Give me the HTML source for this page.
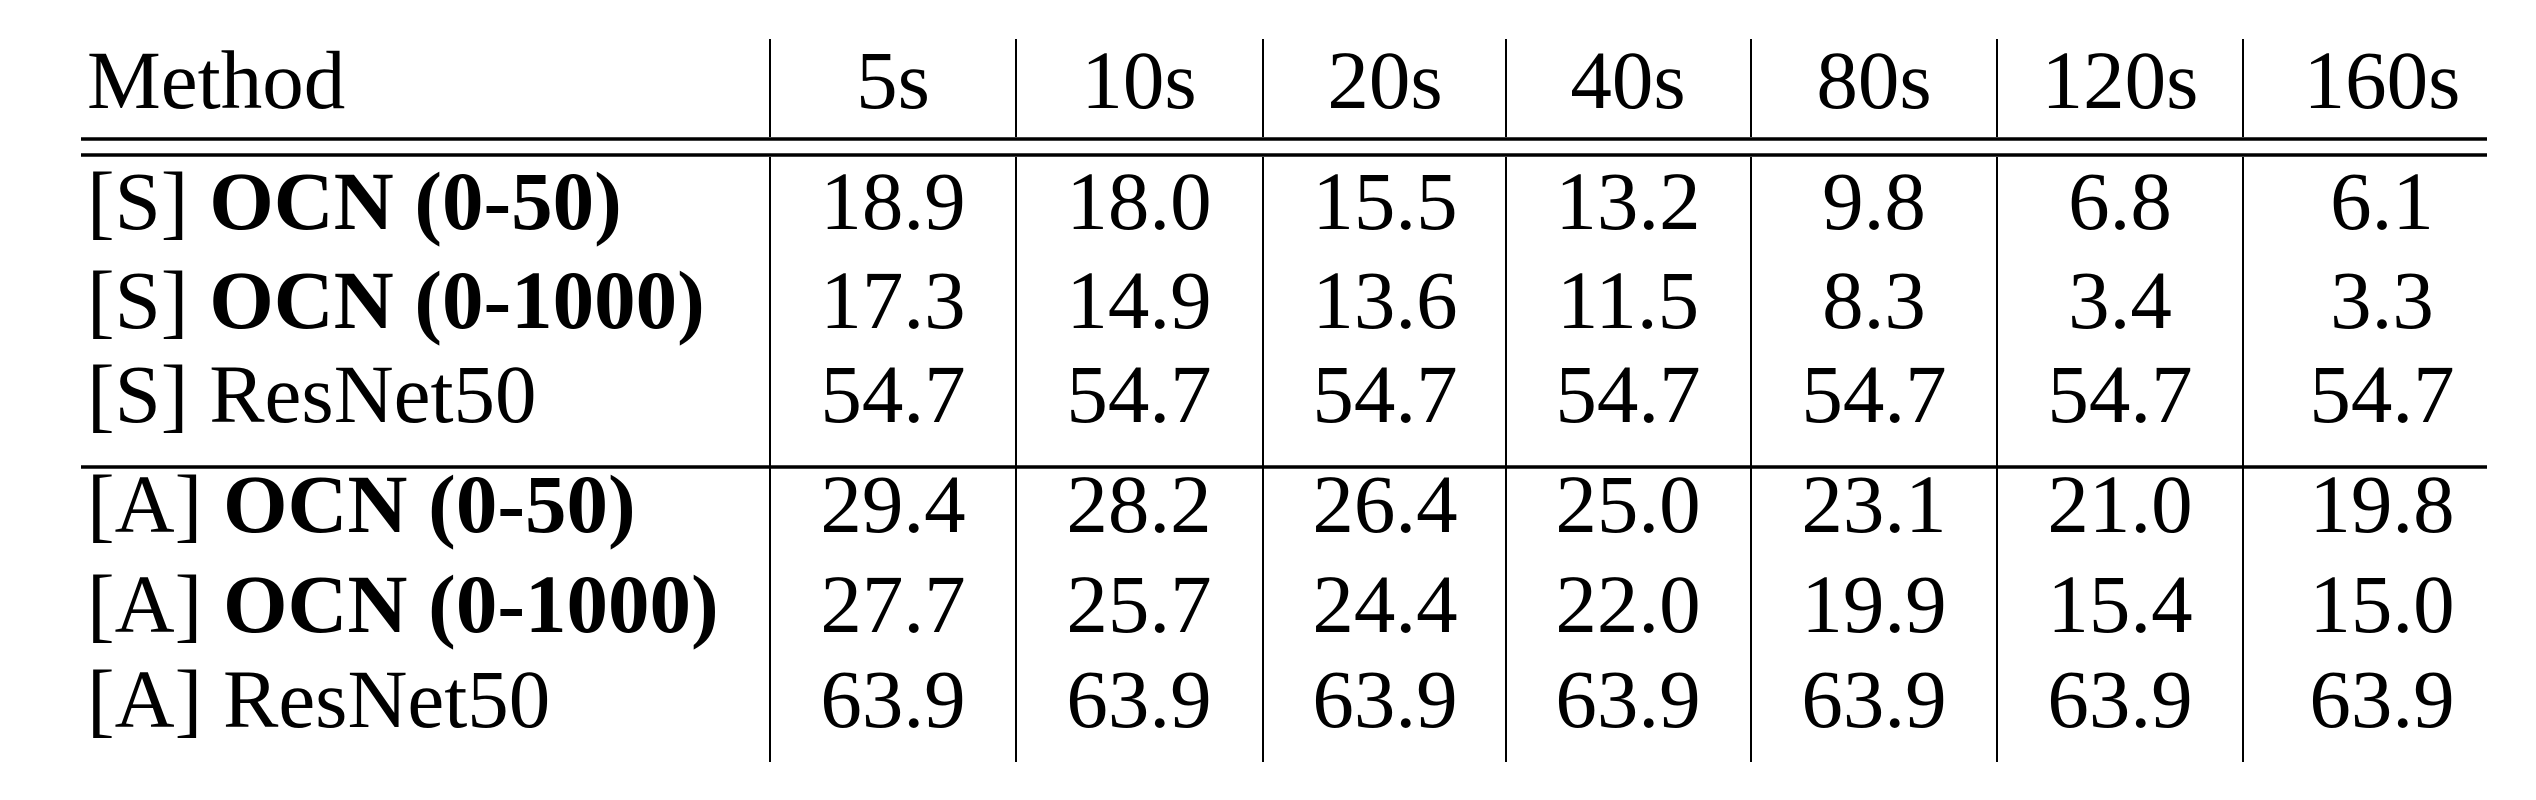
<!DOCTYPE html>
<html><head><meta charset="utf-8"><style>
html,body{margin:0;padding:0;background:#fff;width:2536px;height:800px;overflow:hidden}
svg text{font-family:"Liberation Serif","Times New Roman",serif;font-size:83px;fill:#000}
</style></head><body>
<svg width="2536" height="800">
<g id="lines"></g>
<g id="txt"></g>
</svg>
<script>
const headers=["5s","10s","20s","40s","80s","120s","160s"];
const rowPrefix=["[S] ","[S] ","[S] ","[A] ","[A] ","[A] "];
const rowBold=["OCN (0-50)","OCN (0-1000)","","OCN (0-50)","OCN (0-1000)",""];
const rowPlain=["","","ResNet50","","","ResNet50"];
const values=[
["18.9","18.0","15.5","13.2","9.8","6.8","6.1"],
["17.3","14.9","13.6","11.5","8.3","3.4","3.3"],
["54.7","54.7","54.7","54.7","54.7","54.7","54.7"],
["29.4","28.2","26.4","25.0","23.1","21.0","19.8"],
["27.7","25.7","24.4","22.0","19.9","15.4","15.0"],
["63.9","63.9","63.9","63.9","63.9","63.9","63.9"]];
const NS="http://www.w3.org/2000/svg";
const colEdges=[770,1016,1263,1506,1751,1997,2243];
const colCenters=[893,1139,1385,1628,1874,2120,2382];
const LEFT=81,RIGHT=2487;
const baselines=[229,328,422,532,632,727];
const L=document.getElementById('lines'),T=document.getElementById('txt');
function line(x1,y1,x2,y2,w,name){const l=document.createElementNS(NS,'line');
l.setAttribute('x1',x1);l.setAttribute('y1',y1);l.setAttribute('x2',x2);l.setAttribute('y2',y2);
l.setAttribute('stroke','#000');l.setAttribute('stroke-width',w);


L.appendChild(l);}
line(LEFT,139,RIGHT,139,3.5,'header-rule-top');
line(LEFT,155,RIGHT,155,3.5,'header-rule-bottom');
line(LEFT,467,RIGHT,467,3.5,'group-separator');
for(let i=0;i<7;i++){
 line(colEdges[i],39,colEdges[i],137,2,'column-divider');
 line(colEdges[i],157,colEdges[i],762,2,'column-divider');
}
function text(x,y,s,anchor,name){const t=document.createElementNS(NS,'text');
t.setAttribute('x',x);t.setAttribute('y',y);t.setAttribute('text-anchor',anchor);t.textContent=s;


T.appendChild(t);return t;}
text(87,108,"Method","start",'method-header');
headers.forEach((h,i)=>text(colCenters[i],108,h,"middle",'time-header'));
for(let r=0;r<6;r++){
 const t=text(87,baselines[r],"","start",'method-label');
 const a=document.createElementNS(NS,'tspan');a.textContent=rowPrefix[r]+rowPlain[r];t.appendChild(a);
 if(rowBold[r]){const b=document.createElementNS(NS,'tspan');b.setAttribute('font-weight','bold');b.textContent=rowBold[r];t.appendChild(b);}
 values[r].forEach((v,i)=>text(colCenters[i],baselines[r],v,"middle",'value-cell'));
}
</script>
</body></html>
